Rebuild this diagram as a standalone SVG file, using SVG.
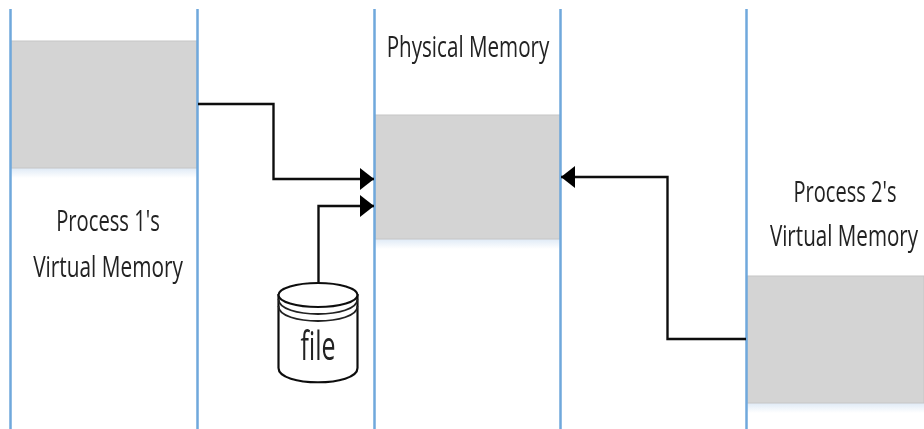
<svg xmlns="http://www.w3.org/2000/svg" width="924" height="429" viewBox="0 0 924 429">
<style>
.lane{stroke:#6fa8dc;stroke-width:2.500;fill:none}
.mem{fill:#d4d4d4;stroke:#c6c6c6;stroke-width:1}
.conn{stroke:#111;stroke-width:2.400;fill:none}
.label{font-family:"Open Sans","Liberation Sans",sans-serif;font-size:30px;fill:#222;text-anchor:middle}
.jar{fill:#fff;stroke:#111;stroke-width:2.200}
.rim{fill:none;stroke:#222;stroke-width:1.800}
.soft{filter:url(#soft)}
</style>
<defs>
<marker id="arrow" markerUnits="userSpaceOnUse" markerWidth="15" markerHeight="22" refX="14" refY="11" orient="auto"><path d="M0 0L14 11L0 22Z" fill="#000"/></marker>
<filter id="soft" filterUnits="userSpaceOnUse" x="0" y="0" width="924" height="429"><feGaussianBlur stdDeviation="0.600"/></filter>
<linearGradient id="fade" x1="0" y1="0" x2="0" y2="1"><stop offset="0" stop-color="#dfeaf6"/><stop offset="1" stop-color="#fff"/></linearGradient>
</defs>
<rect width="924" height="429" fill="#fff"/>
<g id="process1" class="soft">
<rect x="11" y="168" width="186" height="10" fill="url(#fade)"/>
<rect class="mem" x="11" y="41" width="186" height="127"/>
<path class="lane" d="M10.500 9V429M197.500 9V429"/>
<text class="label" transform="translate(108 231) scale(.72 1)" textLength="144" lengthAdjust="spacingAndGlyphs">Process 1's</text>
<text class="label" transform="translate(108 277) scale(.72 1)" textLength="208" lengthAdjust="spacingAndGlyphs">Virtual Memory</text>
</g>
<g id="physical" class="soft">
<rect x="375" y="239" width="185" height="10" fill="url(#fade)"/>
<rect class="mem" x="375" y="115" width="185" height="124"/>
<path class="lane" d="M374.500 9V429M560.500 9V429"/>
<text class="label" transform="translate(468 57) scale(.72 1)" textLength="226" lengthAdjust="spacingAndGlyphs">Physical Memory</text>
</g>
<g id="process2" class="soft">
<rect x="747" y="403" width="177" height="10" fill="url(#fade)"/>
<rect class="mem" x="747" y="276" width="177" height="127"/>
<path class="lane" d="M746.500 9V429"/>
<text class="label" transform="translate(845 202) scale(.72 1)" textLength="143" lengthAdjust="spacingAndGlyphs">Process 2's</text>
<text class="label" transform="translate(844 246) scale(.68 1)" textLength="218" lengthAdjust="spacingAndGlyphs">Virtual Memory</text>
</g>
<g id="file" class="soft">
<path class="jar" d="M278.500 295V368C278.500 387 357.500 387 357.500 368V295Z"/>
<ellipse class="jar" cx="318" cy="295" rx="39.500" ry="12"/>
<path class="rim" d="M278.500 299C278.500 319 357.500 319 357.500 299M278.500 306C278.500 326 357.500 326 357.500 306"/>
<text transform="translate(318 360) scale(.66 1)" font-family="'Open Sans','Liberation Sans',sans-serif" font-size="40" fill="#222" text-anchor="middle" textLength="53" lengthAdjust="spacingAndGlyphs">file</text>
</g>
<g id="connectors" class="soft">
<path class="conn" marker-end="url(#arrow)" d="M198 104H273.500V179H374"/>
<path class="conn" marker-end="url(#arrow)" d="M318.500 283V206H374"/>
<path class="conn" marker-end="url(#arrow)" d="M746 339H667.500V177H561"/>
</g>
</svg>
